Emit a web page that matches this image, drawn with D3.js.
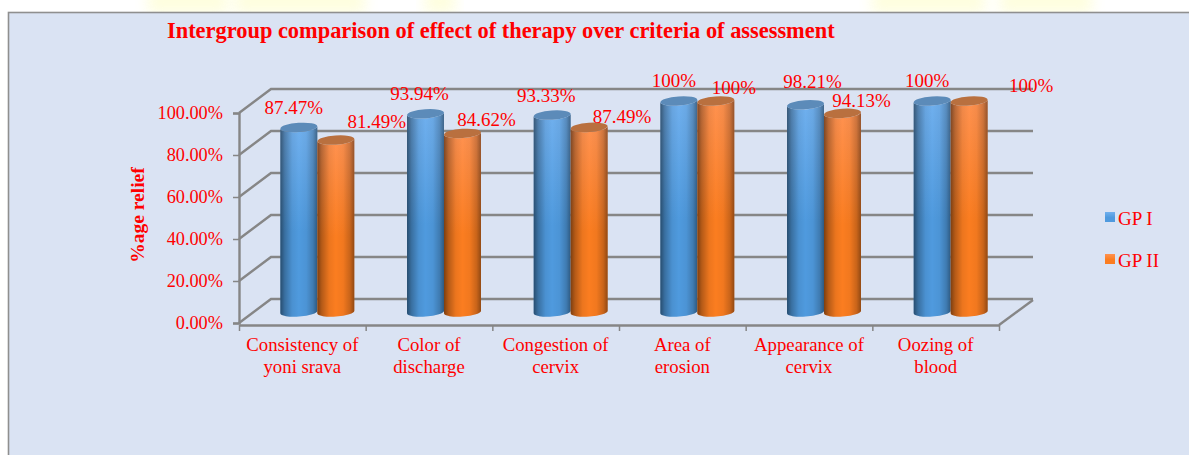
<!DOCTYPE html>
<html>
<head>
<meta charset="utf-8">
<script src="https://cdn.jsdelivr.net/npm/d3@7"></script>
<style>
html, body { margin: 0; padding: 0; background: #fff; overflow: hidden; }
text { font-family: "Liberation Serif", serif; fill: #ff0000; }
.axis path, .axis line { stroke: #868686; }
</style>
</head>
<body>
<div id="graph"></div>
<script>
const categories = [
    ["Consistency of", "yoni srava"],
    ["Color of", "discharge"],
    ["Congestion of", "cervix"],
    ["Area of", "erosion"],
    ["Appearance of", "cervix"],
    ["Oozing of", "blood"]
]
const seriesNames = ["GP I", "GP II"]
const gp1 = [87.47, 93.94, 93.33, 100, 98.21, 100]
const gp2 = [81.49, 84.62, 87.49, 100, 94.13, 100]
const gp1Labels = ["87.47%", "93.94%", "93.33%", "100%", "98.21%", "100%"]
const gp2Labels = ["81.49%", "84.62%", "87.49%", "100%", "94.13%", "100%"]
const yTicks = [0, 20, 40, 60, 80, 100]

// hand placed data labels in the original, offset from the top of each bar
const gp1Nudge = [[-5, -19], [-6, -20], [-6, -19], [-5, -20], [7, -23], [-5, -20]]
const gp2Nudge = [[41, -18], [24, -13], [33, -10], [18, -13], [19, -12], [62, -15]]

const w = 1189, h = 455
const x0 = 239, x1 = 999, floorY = 324
const depthX = 32, depthY = 24
const lineColor = "#868686"

const svg = d3.select("#graph")
    .append("svg")
    .attr("width", w)
    .attr("height", h)
    .style("display", "block")

const defs = svg.append("defs")

defs.append("filter").attr("id", "glow")
    .attr("x", "-30%").attr("y", "-100%").attr("width", "160%").attr("height", "300%")
    .append("feGaussianBlur").attr("stdDeviation", 7)

// shading for the cylinders: vertical base colour, dark edges laid over it
function vertical(id, top, bottom) {
    const g = defs.append("linearGradient").attr("id", id)
        .attr("x1", 0).attr("y1", 0).attr("x2", 0).attr("y2", 1)
    g.append("stop").attr("offset", "0").attr("stop-color", top)
    g.append("stop").attr("offset", "0.55").attr("stop-color", bottom)
    g.append("stop").attr("offset", "1").attr("stop-color", bottom)
}
vertical("blueBody", "#70b0ee", "#4f9ade")
vertical("orangeBody", "#ff9250", "#fb7d20")

const edge = defs.append("linearGradient").attr("id", "edge")
    .attr("x1", 0).attr("y1", 0).attr("x2", 1).attr("y2", 0)
const edgeStops = [[0, .5], [.12, .28], [.32, .06], [.5, 0], [.7, .04], [.88, .2], [1, .42]]
edgeStops.forEach(s => edge.append("stop")
    .attr("offset", s[0]).attr("stop-color", "#000").attr("stop-opacity", s[1]))

// faint yellow background picture peeking out above the panel
const glows = [[148, 80], [235, 130], [425, 30], [872, 113], [1000, 92]]
svg.selectAll(".glow")
    .data(glows)
    .enter()
    .append("rect")
    .attr("class", "glow")
    .attr("x", d => d[0])
    .attr("y", -14)
    .attr("width", d => d[1])
    .attr("height", 28)
    .attr("fill", "#fdfdb8")
    .attr("opacity", .45)
    .attr("filter", "url(#glow)")

svg.append("rect")
    .attr("x", 8.5)
    .attr("y", 12.5)
    .attr("width", w + 20)
    .attr("height", h + 20)
    .attr("fill", "#dae3f3")
    .attr("stroke", "#8f8f8f")
    .attr("stroke-width", 1.6)

const yFront = d3.scaleLinear().domain([0, 100]).range([floorY - 1, 113])
const yBar = d3.scaleLinear().domain([0, 100]).range([312, 101])
const xBand = d3.scaleBand()
    .domain(d3.range(categories.length))
    .range([x0 + 15, x1 + 15])
    .paddingInner(.416)
    .paddingOuter(.208)
const xSeries = d3.scaleBand().domain([0, 1]).range([0, xBand.bandwidth()])
const xTick = d3.scaleLinear().domain([0, categories.length]).range([x0, x1])

// back wall gridlines with their slanted side wall part
const grid = svg.append("g")
grid.selectAll("path")
    .data(yTicks)
    .enter()
    .append("path")
    .attr("d", d => {
        const y = yFront(d)
        return `M${x0},${y}L${x0 + depthX},${y - depthY}L${x1 + depthX + 2},${y - depthY}`
    })
    .attr("fill", "none")
    .attr("stroke", lineColor)
    .attr("stroke-width", 2.4)

// floor edge on the right
svg.append("path")
    .attr("d", `M${x1},${floorY + 1}L${x1 + depthX + 2},${floorY - depthY}`)
    .attr("fill", "none")
    .attr("stroke", lineColor)
    .attr("stroke-width", 2.4)

const yAxis = d3.axisLeft(yFront)
    .tickValues(yTicks)
    .tickSize(6)
    .tickPadding(10)
    .tickFormat(d => d3.format(".2f")(d) + "%")

svg.append("g")
    .attr("class", "axis")
    .attr("transform", `translate(${x0},0)`)
    .call(yAxis)
    .call(g => g.selectAll("line").attr("stroke-width", 1.5))
    .call(g => g.select(".domain").attr("stroke-width", 2.4))
    .call(g => g.selectAll("text").attr("font-size", 18.3).style("font-family", '"Liberation Serif", serif').attr("fill", "#ff0000"))

const xAxis = d3.axisBottom(xTick)
    .tickValues(d3.range(categories.length + 1))
    .tickSize(6)
    .tickSizeOuter(0)
    .tickFormat("")

svg.append("g")
    .attr("class", "axis")
    .attr("transform", `translate(0,${floorY + 1})`)
    .call(xAxis)
    .call(g => g.selectAll("line").attr("stroke-width", 1.5))
    .call(g => g.select(".domain").attr("stroke-width", 2.4))

const catLabels = svg.selectAll(".cat")
    .data(categories)
    .enter()
    .append("text")
    .attr("class", "cat")
    .attr("text-anchor", "middle")
    .attr("font-size", 18.8)
    .attr("y", 351)

catLabels.selectAll("tspan")
    .data(d => d)
    .enter()
    .append("tspan")
    .attr("x", function () {
        const i = categories.indexOf(d3.select(this.parentNode).datum())
        return (xTick(i) + xTick(i + 1)) / 2
    })
    .attr("dy", (d, i) => i ? 22 : 0)
    .text(d => d)

// cylinders, slightly tilted ends like the 3D view of the original
const ry = 4.6, tilt = -4, lift = 1.3
function bar(v, i, s) {
    const a = xBand(i) + xSeries(s), b = a + xSeries.bandwidth()
    const rx = (b - a) / 2
    return { a, b, rx, cx: (a + b) / 2, top: yBar(v), base: yBar(0) }
}
const series = [
    { values: gp1, labels: gp1Labels, nudge: gp1Nudge, body: "blueBody", cap: "#5c8bb9" },
    { values: gp2, labels: gp2Labels, nudge: gp2Nudge, body: "orangeBody", cap: "#b9703f" }
]

categories.forEach((c, i) => {
    series.forEach((s, k) => {
        const p = bar(s.values[i], i, k)
        const d = `M${p.a},${p.top + lift}L${p.a},${p.base + lift}A${p.rx},${ry} ${tilt} 0 0 ${p.b},${p.base - lift}L${p.b},${p.top - lift}A${p.rx},${ry} ${tilt} 0 1 ${p.a},${p.top + lift}Z`
        svg.append("path").attr("d", d).attr("fill", `url(#${s.body})`)
        svg.append("path").attr("d", d).attr("fill", "url(#edge)")
        svg.append("ellipse")
            .attr("transform", `translate(${p.cx},${p.top}) rotate(${tilt})`)
            .attr("rx", p.rx)
            .attr("ry", ry)
            .attr("fill", s.cap)
    })
})

// data labels sit on top of everything
series.forEach((s, k) => {
    svg.selectAll(".lab" + k)
        .data(s.values)
        .enter()
        .append("text")
        .attr("class", "lab" + k)
        .attr("text-anchor", "middle")
        .attr("font-size", 19)
        .attr("x", (d, i) => bar(d, i, k).cx + s.nudge[i][0])
        .attr("y", (d, i) => bar(d, i, k).top + s.nudge[i][1] + 6)
        .text((d, i) => s.labels[i])
})

svg.append("text")
    .attr("x", 167)
    .attr("y", 38)
    .attr("font-size", 22.4)
    .attr("font-weight", "bold")
    .text("Intergroup comparison of effect of therapy over criteria of assessment")

svg.append("text")
    .attr("transform", "translate(144,215) rotate(-90)")
    .attr("text-anchor", "middle")
    .attr("font-size", 19.5)
    .attr("font-weight", "bold")
    .text("%age relief")

// legend
const legend = svg.selectAll(".legend")
    .data(seriesNames)
    .enter()
    .append("g")
    .attr("class", "legend")
    .attr("transform", (d, i) => `translate(1105,${212 + i * 42})`)

legend.append("rect")
    .attr("width", 10)
    .attr("height", 10)
    .attr("fill", (d, i) => `url(#${series[i].body})`)

legend.append("text")
    .attr("x", 13)
    .attr("y", 13)
    .attr("font-size", 19)
    .text(d => d)
</script>
</body>
</html>
